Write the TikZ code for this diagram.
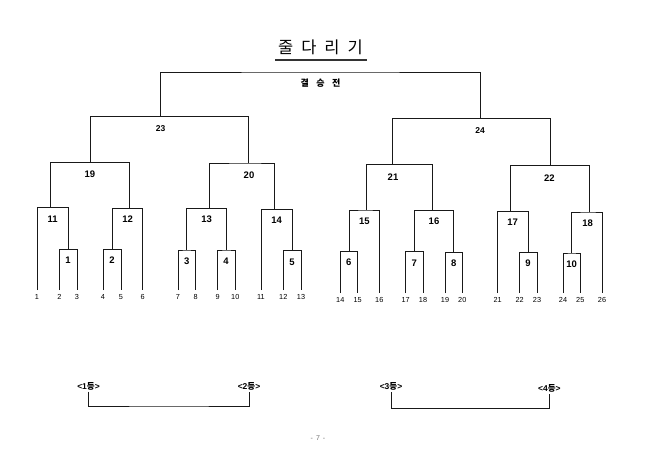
\documentclass[tikz,border=0pt]{standalone}
\usepackage{fontspec}
\setmainfont{Liberation Sans}
\newfontfamily\kr{Noto Sans CJK KR}
\begin{document}
\begin{tikzpicture}[x=1pt,y=-1pt,
  wire/.style={draw=black!90,line width=0.75pt},
  leaf/.style={font=\fontsize{7.3}{8}\selectfont,inner xsep=0pt,inner ysep=4pt,anchor=north,text height=5pt,text depth=0pt},
  mlab/.style={font=\bfseries\fontsize{9.5}{10}\selectfont,inner sep=0pt},
  tlab/.style={font=\bfseries\fontsize{8.5}{10}\selectfont,inner sep=0pt},
  rank/.style={font=\bfseries\fontsize{8.5}{10}\selectfont,inner sep=1.5pt},
]
\useasboundingbox (0,0) rectangle (650,462);
\fill[white] (0,0) rectangle (650,462);

% title
\node[inner sep=0pt,font=\kr\fontsize{16.5}{18}\selectfont] (title) at (320.5,47) {줄\hspace{8pt}다\hspace{8pt}리\hspace{8pt}기};
\draw[line width=1.6pt,black!80] (275,60) -- (367,60);
\node[inner sep=0pt,font=\kr\bfseries\fontsize{9}{10}\selectfont] (final) at (320.5,83.5) {결\hspace{7.5pt}승\hspace{7.5pt}전};

% leaves (left half)
\foreach \n/\x in {1/37,2/59.3,3/77,4/103,5/121,6/142.7,7/178,8/195.7,9/217.7,10/235.3,11/261,12/283.3,13/301}
  \node[leaf] (l\n) at (\x,290) {\n};
% leaves (right half)
\foreach \n/\x in {14/340.3,15/357.7,16/379.3,17/405.7,18/423,19/445,20/462.3,21/497.7,22/519.7,23/537,24/563,25/580.3,26/602}
  \node[leaf] (l\n) at (\x,293) {\n};

% match junctions
\foreach \n/\x/\y in {1/68/249.3,2/112/249.3,3/186.7/250,4/226.7/250,5/292.3/250.7,
  6/349/251.3,7/414.3/251.7,8/453.7/252.3,9/528/252.7,10/571.7/253,
  11/50.3/207.7,12/129.7/208.3,13/209/208.3,14/274.7/209.3,
  15/366.5/210,16/432/210.3,17/510.7/211.3,18/589.3/212,
  19/90.7/162.3,20/248.3/163,21/392.7/164.7,22/550/165.3,
  23/160.7/116.7,24/480.3/118.7}
  \coordinate (m\n) at (\x,\y);
\coordinate (mF) at (320.5,72);

% brackets
\foreach \m/\a/\b in {m1/l2.north/l3.north,m2/l4.north/l5.north,m3/l7.north/l8.north,
  m4/l9.north/l10.north,m5/l12.north/l13.north,m6/l14.north/l15.north,
  m7/l17.north/l18.north,m8/l19.north/l20.north,m9/l22.north/l23.north,
  m10/l24.north/l25.north,
  m11/l1.north/m1,m12/m2/l6.north,m13/m3/m4,m14/l11.north/m5,
  m15/m6/l16.north,m16/m7/m8,m17/l21.north/m9,m18/m10/l26.north,
  m19/m11/m12,m20/m13/m14,m21/m15/m16,m22/m17/m18,
  m23/m19/m20,m24/m21/m22,mF/m23/m24}
  \draw[wire] (\a) |- (\m) -| (\b);

% match labels
\foreach \n/\x/\y in {1/68/260,2/112/260,3/186.7/261,4/226/261,5/292/262,
  6/348.7/262.3,7/414.3/263.3,8/453.7/263.5,9/528/263.7,10/571.7/264,
  11/52.7/219,12/127.7/219.5,13/206.7/219.5,14/276.7/220.3,
  15/364.3/221,16/434/221.7,17/512.7/222.3,18/587.7/223,
  19/90/174.3,20/249/175.3,21/393/177,22/549.3/178}
  \node[mlab] (t\n) at (\x,\y) {\n};
\node[tlab] (t23) at (160.7,129) {23};
\node[tlab] (t24) at (480,131) {24};

% ranking brackets
\node[rank] (r1) at (88.5,386) {<1{\kr\bfseries 등}>};
\node[rank] (r2) at (249,386.7) {<2{\kr\bfseries 등}>};
\node[rank] (r3) at (391,386.7) {<3{\kr\bfseries 등}>};
\node[rank] (r4) at (549.3,388.3) {<4{\kr\bfseries 등}>};
\coordinate (b12) at (169,406);
\coordinate (b34) at (470,408.5);
\draw[wire] (r1.south) |- (b12) -| (r2.south);
\draw[wire] (r3.south) |- (b34) -| (r4.south);

% page number
\node[inner sep=0pt,font=\fontsize{7}{8}\selectfont,text=black!55] (page) at (318,438) {-\hspace{3pt}7\hspace{3pt}-};
\end{tikzpicture}
\end{document}
